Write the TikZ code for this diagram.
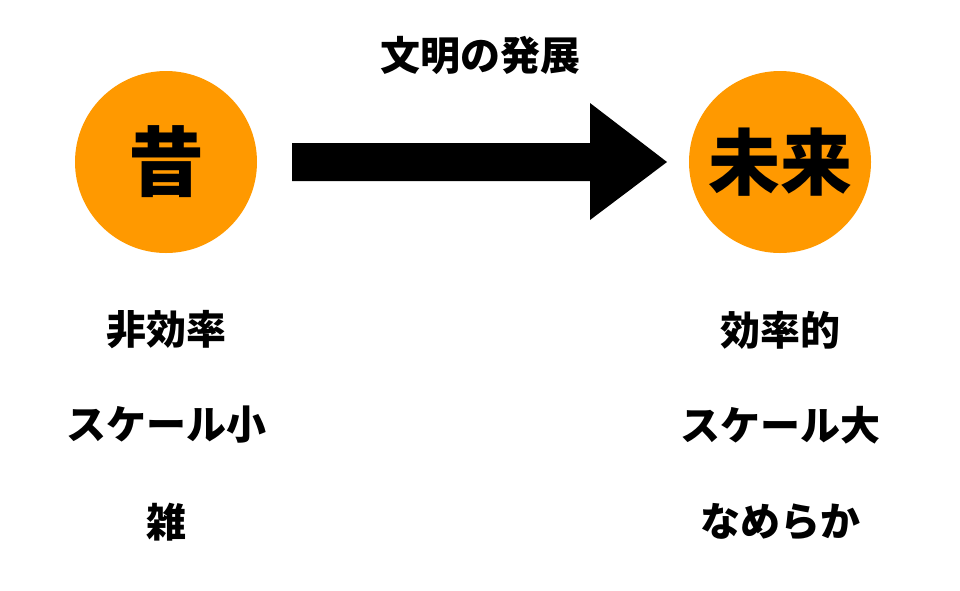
\documentclass[tikz,border=0pt]{standalone}
\usepackage{fontspec}
\newfontfamily\cjk{Noto Sans CJK JP}
\definecolor{orng}{HTML}{FF9900}
\tikzset{circ/.style={circle,fill=orng,minimum size=182pt,inner sep=0pt},
lbl/.style={font=\cjk\bfseries\fontsize{40}{40}\selectfont,inner sep=0pt}}
\begin{document}
\begin{tikzpicture}[x=1pt,y=-1pt]
\useasboundingbox (0,0) rectangle (960,590);
\node[circ,font=\cjk\bfseries\fontsize{76}{76}\selectfont] (past) at (166,162) {昔};
\node[circ,font=\cjk\bfseries\fontsize{72}{72}\selectfont] (fut) at (780,162) {未来};
\node[lbl] (title) at (480,55) {文明の発展};
\fill (292,143) -- (590,143) -- (590,103) -- (667,162) -- (590,220) -- (590,181) -- (292,181) -- cycle;
\node[lbl] (l1) at (166,330) {非効率};
\node[lbl] (l2) at (166,425) {スケール小};
\node[lbl] (l3) at (166,522) {雑};
\node[lbl] (r1) at (780,330) {効率的};
\node[lbl] (r2) at (780,425) {スケール大};
\node[lbl] (r3) at (780,522) {なめらか};
\end{tikzpicture}
\end{document}
